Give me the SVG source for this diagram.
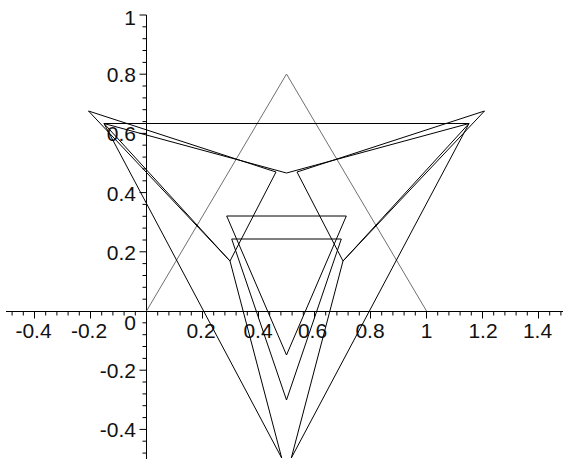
<svg xmlns="http://www.w3.org/2000/svg" width="563" height="465" viewBox="0 0 563 465">
<style>
.ax{stroke:#000;stroke-width:1;fill:none}
.tk{stroke:#000;stroke-width:1;fill:none}
.ln{stroke:#000;stroke-width:1;fill:none;stroke-linejoin:miter}
.gr{stroke:#707070;stroke-width:1;fill:none}
text{font-family:"Liberation Sans",Arial,sans-serif;font-size:21px;fill:#111}
.xl{text-anchor:middle}
.yl{text-anchor:end}
</style>
<rect width="563" height="465" fill="#fff"/>
<g id="axes">
<path class="ax" d="M6 311.5H563M146.5 15V459"/>
<path class="tk" d="M12.1 311.5v4M23.3 311.5v4M34.5 311.5v7M45.7 311.5v4M56.9 311.5v4M68.1 311.5v4M79.3 311.5v4M90.5 311.5v7M101.7 311.5v4M112.9 311.5v4M124.1 311.5v4M135.3 311.5v4M157.7 311.5v4M168.9 311.5v4M180.1 311.5v4M191.3 311.5v4M202.5 311.5v7M213.7 311.5v4M224.9 311.5v4M236.1 311.5v4M247.3 311.5v4M258.5 311.5v7M269.7 311.5v4M280.9 311.5v4M292.1 311.5v4M303.3 311.5v4M314.5 311.5v7M325.7 311.5v4M336.9 311.5v4M348.1 311.5v4M359.3 311.5v4M370.5 311.5v7M381.7 311.5v4M392.9 311.5v4M404.1 311.5v4M415.3 311.5v4M426.5 311.5v7M437.7 311.5v4M448.9 311.5v4M460.1 311.5v4M471.3 311.5v4M482.5 311.5v7M493.7 311.5v4M504.9 311.5v4M516.1 311.5v4M527.3 311.5v4M538.5 311.5v7M549.7 311.5v4M560.9 311.5v4"/>
<path class="tk" d="M146.5 453.1h-4M146.5 441.2h-4M146.5 429.4h-7M146.5 417.6h-4M146.5 405.7h-4M146.5 393.9h-4M146.5 382h-4M146.5 370.2h-7M146.5 358.4h-4M146.5 346.5h-4M146.5 334.7h-4M146.5 322.8h-4M146.5 299.2h-4M146.5 287.3h-4M146.5 275.5h-4M146.5 263.6h-4M146.5 251.8h-7M146.5 240h-4M146.5 228.1h-4M146.5 216.3h-4M146.5 204.4h-4M146.5 192.6h-7M146.5 180.8h-4M146.5 168.9h-4M146.5 157.1h-4M146.5 145.2h-4M146.5 133.4h-7M146.5 121.6h-4M146.5 109.7h-4M146.5 97.9h-4M146.5 86h-4M146.5 74.2h-7M146.5 62.4h-4M146.5 50.5h-4M146.5 38.7h-4M146.5 26.8h-4M146.5 15h-7"/>
</g>
<g id="labels">
<text class="xl" x="33.5" y="338">-0.4</text>
<text class="xl" x="89" y="338">-0.2</text>
<text class="xl" x="130" y="330">0</text>
<text class="xl" x="201" y="338">0.2</text>
<text class="xl" x="258" y="338">0.4</text>
<text class="xl" x="312.5" y="338">0.6</text>
<text class="xl" x="370" y="338">0.8</text>
<text class="xl" x="426.5" y="338">1</text>
<text class="xl" x="483" y="338">1.2</text>
<text class="xl" x="537.5" y="338">1.4</text>
<text class="yl" x="136" y="25">1</text>
<text class="yl" x="136" y="82">0.8</text>
<text class="yl" x="136" y="141">0.6</text>
<text class="yl" x="136" y="200.5">0.4</text>
<text class="yl" x="136" y="259.5">0.2</text>
<text class="yl" x="136" y="378">-0.2</text>
<text class="yl" x="136" y="437">-0.4</text>
</g>
<g id="triangle-base">
<path class="gr" d="M146.5 311L286.5 74L426.5 311"/>
</g>
<g id="connectors">
<path id="tri-flat" class="ln" d="M104 123.5H469L286.5 173Z"/>
<path id="tri-a" class="ln" d="M226.7 216H346.3L286.5 355Z"/>
<path id="tri-b" class="ln" d="M231.7 239H341.3L286.5 400Z"/>
<path id="tri-l1" class="ln" d="M88.5 111L276 172L230 261Z"/>
<path id="tri-r1" class="ln" d="M484.5 111L297 172L343 261Z"/>
<path id="tri-l2" class="ln" d="M104 123.5L230 261L281.7 458Z"/>
<path id="tri-r2" class="ln" d="M469 123.5L343 261L291.3 458Z"/>
</g>
</svg>
